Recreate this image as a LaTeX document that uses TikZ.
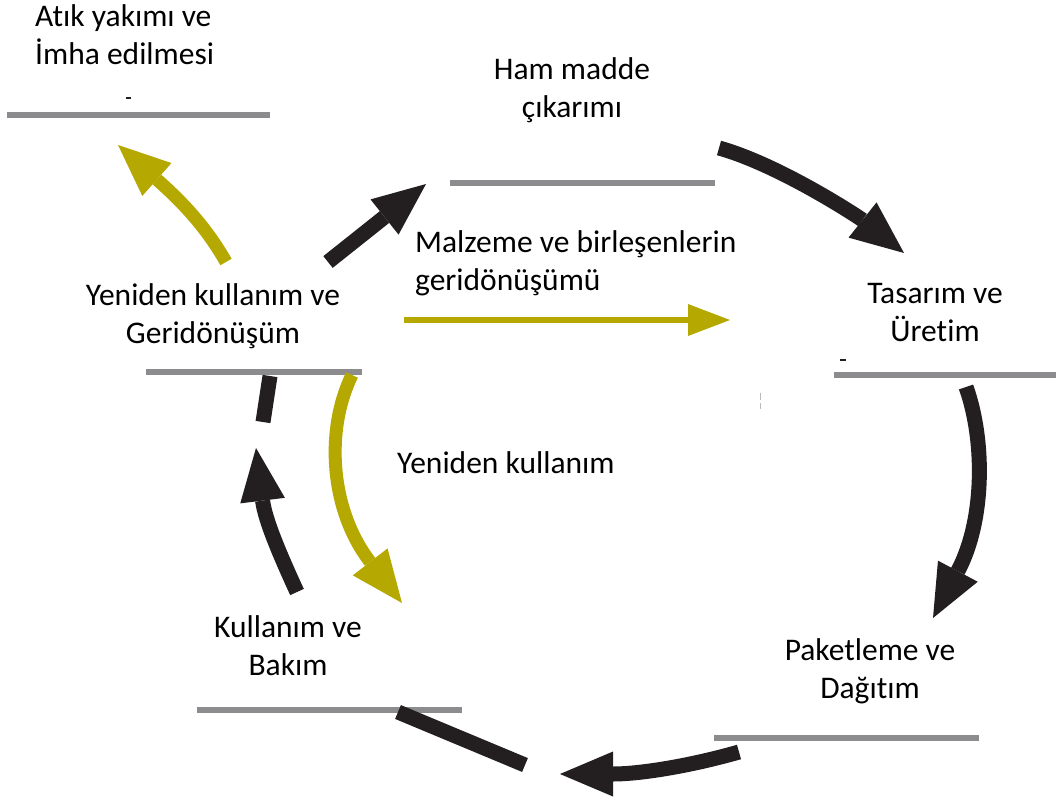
\documentclass[tikz,border=0pt]{standalone}
\usepackage{fontspec}
\setmainfont{Carlito}[Ligatures={NoCommon}]
\usetikzlibrary{arrows.meta}
\definecolor{bargray}{RGB}{140,140,142}
\definecolor{arrblack}{RGB}{35,31,32}
\definecolor{olivey}{RGB}{181,168,0}
\tikzset{
  lbl/.style={inner sep=0pt, font=\fontsize{31.5}{38}\selectfont},
  bar/.style={bargray, line width=6.5pt},
  blk/.style={arrblack, line width=15pt, -{Triangle[length=53pt,width=45pt,line width=0pt]}},
  blkseg/.style={arrblack, line width=15pt},
  yel/.style={olivey, line width=13pt, -{Triangle[length=52pt,width=44pt,line width=0pt]}},
  yelthin/.style={olivey, line width=5.5pt, -{Triangle[length=42pt,width=32pt,line width=0pt]}}
}
\begin{document}
\begin{tikzpicture}[x=1pt,y=-1pt]
\useasboundingbox (0,0) rectangle (1056,803);
% labels
\node[lbl, anchor=base west] (atik) at (35,26) {\begin{tabular}[t]{@{}l@{}}Atık yakımı ve\\İmha edilmesi\end{tabular}};
\node[lbl, anchor=base] (ham) at (572,79) {\begin{tabular}[t]{@{}c@{}}Ham madde\\çıkarımı\end{tabular}};
\node[lbl, anchor=base west] (malz) at (415,252) {\begin{tabular}[t]{@{}l@{}}Malzeme ve birleşenlerin\\geridönüşümü\end{tabular}};
\node[lbl, anchor=base] (yen) at (213,305) {\begin{tabular}[t]{@{}c@{}}Yeniden kullanım ve\\Geridönüşüm\end{tabular}};
\node[lbl, anchor=base] (tas) at (935,303) {\begin{tabular}[t]{@{}c@{}}Tasarım ve\\Üretim\end{tabular}};
\node[lbl, anchor=base west] (reuse) at (397,473) {Yeniden kullanım};
\node[lbl, anchor=base] (kul) at (288,637) {\begin{tabular}[t]{@{}c@{}}Kullanım ve\\Bakım\end{tabular}};
\node[lbl, anchor=base] (pak) at (870,660) {\begin{tabular}[t]{@{}c@{}}Paketleme ve\\Dağıtım\end{tabular}};
% bars
\draw[bar] (7,115) -- (270,115);
\draw[bar] (450,183) -- (715,183);
\draw[bar] (834,375) -- (1056,375);
\draw[bar] (146,372) -- (362,372);
\draw[bar] (197,710) -- (462,710);
\draw[bar] (714,738) -- (979,738);
% specks
\fill[arrblack] (126,97) rectangle (131,99);
\fill[arrblack] (840,359) rectangle (846,361);
\fill[bargray!60] (759.5,393) rectangle (760.5,400);
\fill[bargray!60] (759.5,403) rectangle (760.5,409);
% arrow endpoints
\coordinate (a1s) at (328,262);  \coordinate (a1e) at (426,184);
\coordinate (a2s) at (719,148);  \coordinate (a2e) at (904,253);
\coordinate (a3s) at (966,387);  \coordinate (a3e) at (933,618);
\coordinate (a4s) at (739,752);  \coordinate (a4e) at (560,774);
\coordinate (s1s) at (525,765);  \coordinate (s1e) at (398,712);
\coordinate (a6s) at (297,592);  \coordinate (a6e) at (256,448);
\coordinate (s2s) at (270,376);  \coordinate (s2e) at (263,422);
\coordinate (y1s) at (226,262);  \coordinate (y1e) at (118,145);
\coordinate (y2s) at (404,320);  \coordinate (y2e) at (730,320);
\coordinate (y3s) at (352,375);  \coordinate (y3e) at (402,603);
% black arrows
\draw[blk] (a1s) -- (a1e);
\draw[blk] (a2s) .. controls (780,165) and (860,218) .. (a2e);
\draw[blk] (a3s) .. controls (985,440) and (985,520) .. (a3e);
\draw[blk] (a4s) .. controls (690,766) and (640,774) .. (a4e);
\draw[blkseg] (s1s) -- (s1e);
\draw[blk] (a6s) .. controls (280,555) and (265,520) .. (a6e);
\draw[blkseg] (s2s) -- (s2e);
% yellow arrows
\draw[yel] (y1s) .. controls (205,225) and (180,200) .. (y1e);
\draw[yelthin] (y2s) -- (y2e);
\draw[yel] (y3s) .. controls (325,430) and (330,510) .. (y3e);
\end{tikzpicture}
\end{document}
